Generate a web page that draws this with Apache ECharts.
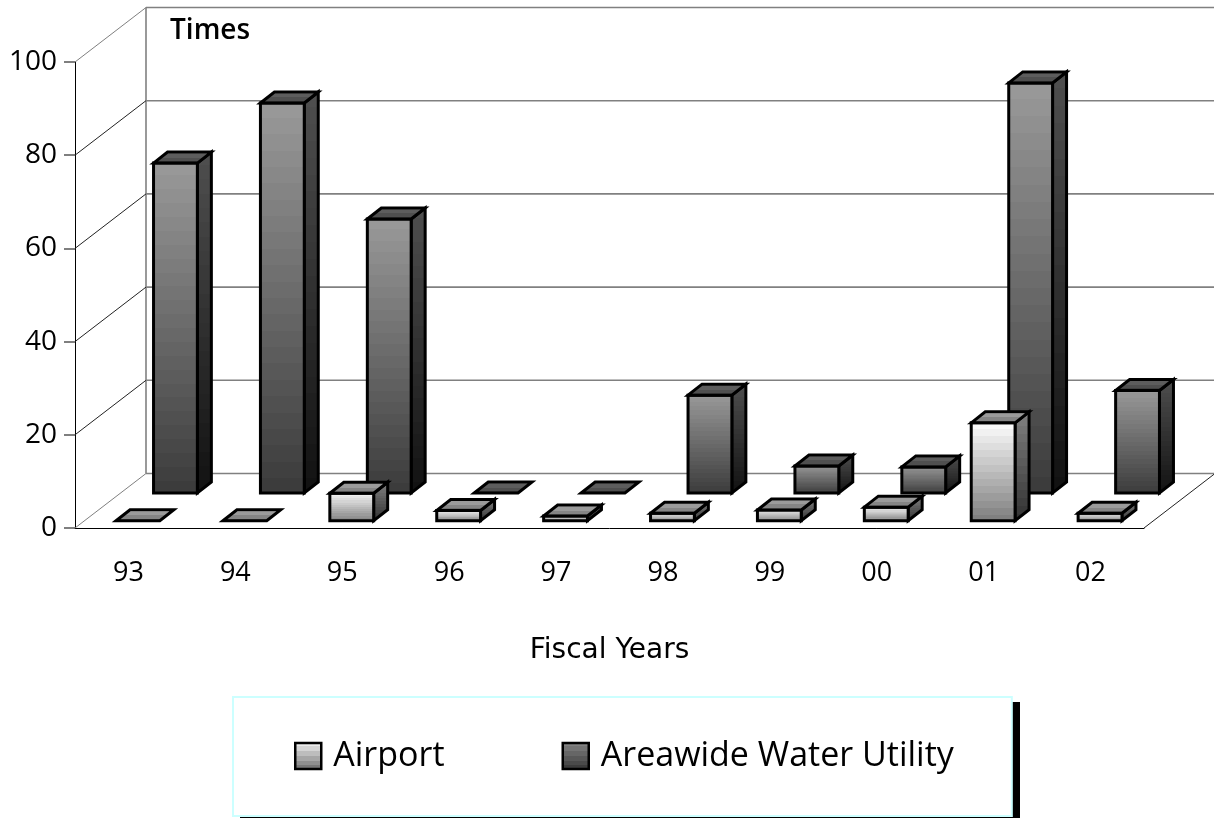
<!DOCTYPE html>
<html><head><meta charset="utf-8">
<style>html,body{margin:0;padding:0;background:#fff}#c{width:1214px;height:818px}</style>
<script src="https://cdn.jsdelivr.net/npm/echarts@6/dist/echarts.min.js"></script>
</head><body><div id="c"></div>
<script>
const categories = ['93','94','95','96','97','98','99','00','01','02'];
const airport = [0,0,5.9,2.2,1,1.6,2.3,2.9,21,1.6];
const water = [70.8,83.7,58.8,0,0,21,5.8,5.6,88,22];
const yTicks = [0,20,40,60,80,100];

const FONT = '"Open Sans"';
const DEPTH = [71,-54.5];
const BAR_DEPTH = [14,-11];
const BAR_W = 0.41;

function bands(a,b,n){
  const hex=v=>{const s=Math.round(v).toString(16).padStart(2,'0');return '#'+s+s+s;};
  const stops=[];
  for(let i=0;i<n;i++){
    const c=hex(a+(b-a)*i/(n-1));
    stops.push({offset:i/n,color:c},{offset:(i+1)/n,color:c});
  }
  return {type:'linear',x:0,y:0,x2:0,y2:1,colorStops:stops};
}
const STYLES = {
  Airport:{front:bands(250,128,14),side:bands(128,50,14),cap:bands(176,112,4),shift:[9.5,-7.3]},
  Water:{front:bands(152,60,24),side:bands(78,18,24),cap:bands(108,64,4),shift:[47,-35]}
};

function barRenderer(st){
  return function(params,api){
    const idx=api.value(0), v=api.value(1);
    const bw=api.size([1,0])[0], w=bw*BAR_W;
    const b=api.coord([idx,0]), t=api.coord([idx,v]);
    const xl=b[0]+st.shift[0]-w/2, xr=xl+w;
    const yb=b[1]+st.shift[1], yt=t[1]+st.shift[1];
    const dx=BAR_DEPTH[0], dy=BAR_DEPTH[1];
    const line={stroke:'#000',lineWidth:3,lineJoin:'miter'};
    const poly=(pts,fill)=>({type:'polygon',shape:{points:pts},style:Object.assign({fill:fill},line)});
    const ch=[];
    if(v>0){
      ch.push(poly([[xr,yt],[xr+dx,yt+dy],[xr+dx,yb+dy],[xr,yb]],st.side));
      ch.push(poly([[xl,yt],[xr,yt],[xr,yb],[xl,yb]],st.front));
    }
    ch.push(poly([[xl,yt],[xl+dx,yt+dy],[xr+dx,yt+dy],[xr,yt]],st.cap));
    return {type:'group',children:ch};
  };
}
function wallRenderer(params,api){
  const v=api.value(0), cs=params.coordSys;
  const y=api.coord([0,v])[1];
  const x0=cs.x, x1=cs.x+cs.width;
  const bx=x0+DEPTH[0], by=y+DEPTH[1];
  const gray='#808080';
  const ch=[
    {type:'line',shape:{x1:x0,y1:y,x2:bx,y2:by},style:{stroke:(v===0||v===100)?gray:'#222',lineWidth:1}},
    {type:'line',shape:{x1:bx,y1:by,x2:x1+DEPTH[0],y2:by},style:{stroke:gray,lineWidth:1.6}}
  ];
  if(v===0){
    ch.push({type:'line',shape:{x1:x1,y1:y,x2:x1+DEPTH[0],y2:by},style:{stroke:'#222',lineWidth:1}});
    const top=api.coord([0,100])[1]+DEPTH[1];
    ch.push({type:'line',shape:{x1:bx,y1:by,x2:bx,y2:top},style:{stroke:gray,lineWidth:1.6}});
  }
  return {type:'group',children:ch};
}

const chart = echarts.init(document.getElementById('c'));
chart.setOption({
  animation:false,
  backgroundColor:'#fff',
  title:{text:'Times',left:165,top:12,textStyle:{fontFamily:FONT,fontSize:28,fontWeight:600,color:'#000'}},
  grid:{left:75,right:70,top:62,bottom:290,containLabel:false},
  graphic:[{type:'rect',z:0,shape:{x:240,y:702,width:780,height:116},style:{fill:'#000'}}],
  xAxis:{type:'category',data:categories,
    name:'Fiscal Years',nameLocation:'middle',nameGap:109,
    nameTextStyle:{fontFamily:'"DejaVu Sans"',fontSize:28,color:'#000'},
    axisLine:{lineStyle:{color:'#000',width:1}},
    axisTick:{length:11,lineStyle:{color:'#333',width:1}},
    axisLabel:{margin:32,fontFamily:FONT,fontSize:27,color:'#000'},
    splitLine:{show:false}},
  yAxis:{type:'value',min:0,max:100,interval:20,
    axisLine:{show:true,lineStyle:{color:'#000',width:1}},
    axisTick:{show:true,length:11,lineStyle:{color:'#555',width:1.5}},
    axisLabel:{margin:18,fontFamily:FONT,fontSize:28,color:'#000',padding:[0,0,6,0]},
    splitLine:{show:false}},
  legend:{
    left:233,top:697,orient:'horizontal',
    padding:[42,58,43,61],itemGap:117,itemWidth:26,itemHeight:26,
    backgroundColor:'#fff',borderColor:'#ccffff',borderWidth:2,
    textStyle:{fontFamily:FONT,fontSize:34,color:'#000',padding:[0,0,0,7]},
    data:[
      {name:'Airport',icon:'rect',itemStyle:{color:bands(235,120,6),borderColor:'#000',borderWidth:2.5}},
      {name:'Areawide Water Utility',icon:'rect',itemStyle:{color:bands(130,60,6),borderColor:'#000',borderWidth:2.5}}
    ]
  },
  series:[
    {type:'custom',silent:true,coordinateSystem:'cartesian2d',z:1,data:yTicks.map(v=>[v]),encode:{y:0},renderItem:wallRenderer},
    {type:'custom',name:'Areawide Water Utility',coordinateSystem:'cartesian2d',z:2,
      data:water.map((v,i)=>[i,v]),encode:{x:0,y:1},renderItem:barRenderer(STYLES.Water)},
    {type:'custom',name:'Airport',coordinateSystem:'cartesian2d',z:3,
      data:airport.map((v,i)=>[i,v]),encode:{x:0,y:1},renderItem:barRenderer(STYLES.Airport)}
  ]
});
</script></body></html>
